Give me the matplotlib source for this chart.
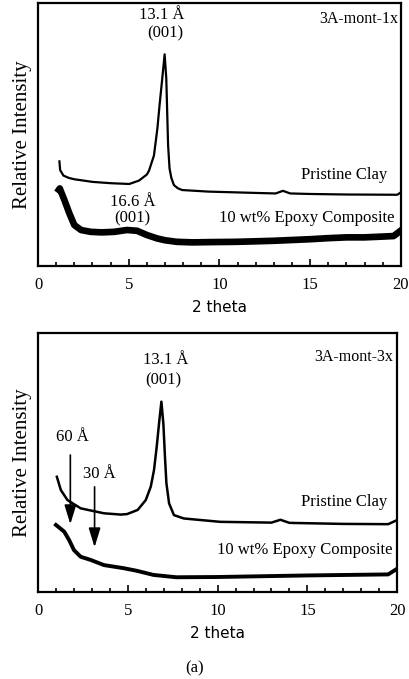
import numpy as np
import matplotlib
matplotlib.use("Agg")
import matplotlib.pyplot as plt
from matplotlib.ticker import MultipleLocator

# ---- data (y in arbitrary units, 0 = frame bottom, 100 = frame top)
x_clay_1x = [1.18, 1.22, 1.4, 1.7, 2.0, 3.0, 4.0, 5.03, 5.57, 6.0, 6.12, 6.39,
             6.58, 6.7, 6.85, 6.98, 7.07, 7.12, 7.17, 7.25, 7.35, 7.49, 7.7,
             7.94, 9.4, 12.0, 13.1, 13.5, 13.9, 15.0, 17.0, 19.8, 20.0]
y_clay_1x = [39.8, 36.5, 34.4, 33.5, 33.0, 32.0, 31.5, 31.2, 32.5, 34.8, 36.3,
             42.0, 52.3, 61.2, 71.4, 80.5, 71.4, 58.7, 46.0, 37.1, 33.5, 30.8,
             29.6, 28.9, 28.3, 27.8, 27.6, 28.6, 27.6, 27.4, 27.2, 27.1, 28.0]

x_comp_1x = [1.15, 1.2, 1.46, 1.73, 2.0, 2.37, 2.9, 3.5, 4.2, 4.9, 5.46, 6.0,
             6.56, 7.0, 7.65, 8.5, 9.5, 10.9, 12.0, 13.0, 14.0, 15.0, 16.0,
             17.0, 18.0, 19.0, 19.6, 20.0]
y_comp_1x = [29.0, 29.5, 25.0, 20.0, 15.6, 13.7, 13.0, 12.8, 13.0, 13.7, 13.4,
             11.8, 10.5, 9.8, 9.2, 9.0, 9.1, 9.2, 9.4, 9.6, 9.9, 10.2, 10.6,
             10.9, 10.9, 11.2, 11.4, 13.5]

x_clay_3x = [1.05, 1.27, 1.64, 2.38, 3.67, 4.62, 4.96, 5.55, 6.0, 6.28, 6.46,
             6.61, 6.74, 6.87, 6.98, 7.07, 7.15, 7.3, 7.57, 8.12, 10.15, 13.0,
             13.5, 14.0, 17.0, 19.5, 20.0]
y_clay_3x = [44.5, 39.4, 35.5, 32.3, 30.4, 29.9, 30.1, 31.7, 35.5, 40.7, 47.1,
             56.1, 65.1, 73.5, 65.1, 52.2, 42.0, 34.2, 29.7, 28.4, 27.1, 26.8,
             27.9, 26.7, 26.3, 26.2, 27.8]

x_comp_3x = [1.0, 1.46, 1.73, 2.0, 2.38, 2.93, 3.67, 4.77, 5.5, 6.43, 7.7,
             10.0, 15.0, 19.5, 20.0]
y_comp_3x = [25.9, 23.3, 20.1, 16.2, 13.6, 12.4, 10.4, 9.2, 8.2, 6.6, 5.7,
             5.8, 6.4, 6.8, 9.0]

x_ticks = [0, 5, 10, 15, 20]

serif = "Liberation Serif"
sans = "DejaVu Sans"

fig = plt.figure(figsize=(4.1, 6.79), dpi=100)
ax1 = fig.add_axes([0.0927, 0.6082, 0.885, 0.3873])
ax2 = fig.add_axes([0.0927, 0.1281, 0.876, 0.3814])


def style_axis(ax):
    ax.set_xlim(0, 20)
    ax.set_ylim(0, 100)
    ax.set_yticks([])
    ax.set_xticks(x_ticks)
    ax.set_xticklabels([str(t) for t in x_ticks], family=serif, fontsize=12)
    ax.xaxis.set_minor_locator(MultipleLocator(1))
    ax.tick_params(axis="x", which="major", direction="in", length=5,
                   width=1.2, pad=8)
    ax.tick_params(axis="x", which="minor", direction="in", length=3,
                   width=1.2)
    for sp in ax.spines.values():
        sp.set_linewidth(1.6)
    ax.set_ylabel("Relative Intensity", family=serif, fontsize=15, labelpad=4)
    ax.set_xlabel("2 theta", family=sans, fontsize=11, labelpad=5)


def arrow(ax, x, y0, y1):
    ax.annotate("", xy=(x, y1), xytext=(x, y0),
                arrowprops=dict(arrowstyle="-|>,head_length=0.65,head_width=0.2",
                                color="black", lw=1.2, mutation_scale=18,
                                shrinkA=0, shrinkB=0))


# top panel
style_axis(ax1)
ax1.plot(x_clay_1x, y_clay_1x, color="black", lw=1.6)
ax1.plot(x_comp_1x, y_comp_1x, color="black", lw=4.8)
ax1.text(6.83, 95.4, "13.1 Å", family=serif, fontsize=12, ha="center", va="center")
ax1.text(7.0, 88.6, "(001)", family=serif, fontsize=12, ha="center", va="center")
ax1.text(19.85, 93.9, "3A-mont-1x", family=serif, fontsize=11.5, ha="right", va="center")
ax1.text(19.25, 34.6, "Pristine Clay", family=serif, fontsize=12, ha="right", va="center")
ax1.text(19.65, 18.3, "10 wt% Epoxy Composite", family=serif, fontsize=12,
         ha="right", va="center")
ax1.text(5.2, 24.3, "16.6 Å", family=serif, fontsize=12, ha="center", va="center")
ax1.text(5.2, 18.3, "(001)", family=serif, fontsize=12, ha="center", va="center")

# bottom panel
style_axis(ax2)
ax2.plot(x_clay_3x, y_clay_3x, color="black", lw=1.8)
ax2.plot(x_comp_3x, y_comp_3x, color="black", lw=2.8)
ax2.text(7.1, 89.6, "13.1 Å", family=serif, fontsize=12, ha="center", va="center")
ax2.text(6.95, 81.9, "(001)", family=serif, fontsize=12, ha="center", va="center")
ax2.text(19.75, 90.7, "3A-mont-3x", family=serif, fontsize=11.5, ha="right", va="center")
ax2.text(19.45, 34.7, "Pristine Clay", family=serif, fontsize=12, ha="right", va="center")
ax2.text(19.75, 16.2, "10 wt% Epoxy Composite", family=serif, fontsize=12,
         ha="right", va="center")
ax2.text(1.93, 59.8, "60 Å", family=serif, fontsize=12, ha="center", va="center")
ax2.text(3.39, 45.6, "30 Å", family=serif, fontsize=12, ha="center", va="center")
arrow(ax2, 1.8, 52.9, 26.2)
arrow(ax2, 3.15, 40.6, 17.3)

fig.text(195 / 410, 1 - 668 / 679, "(a)", family=serif, fontsize=12,
         ha="center", va="center")

fig.savefig("out.png", dpi=100)
